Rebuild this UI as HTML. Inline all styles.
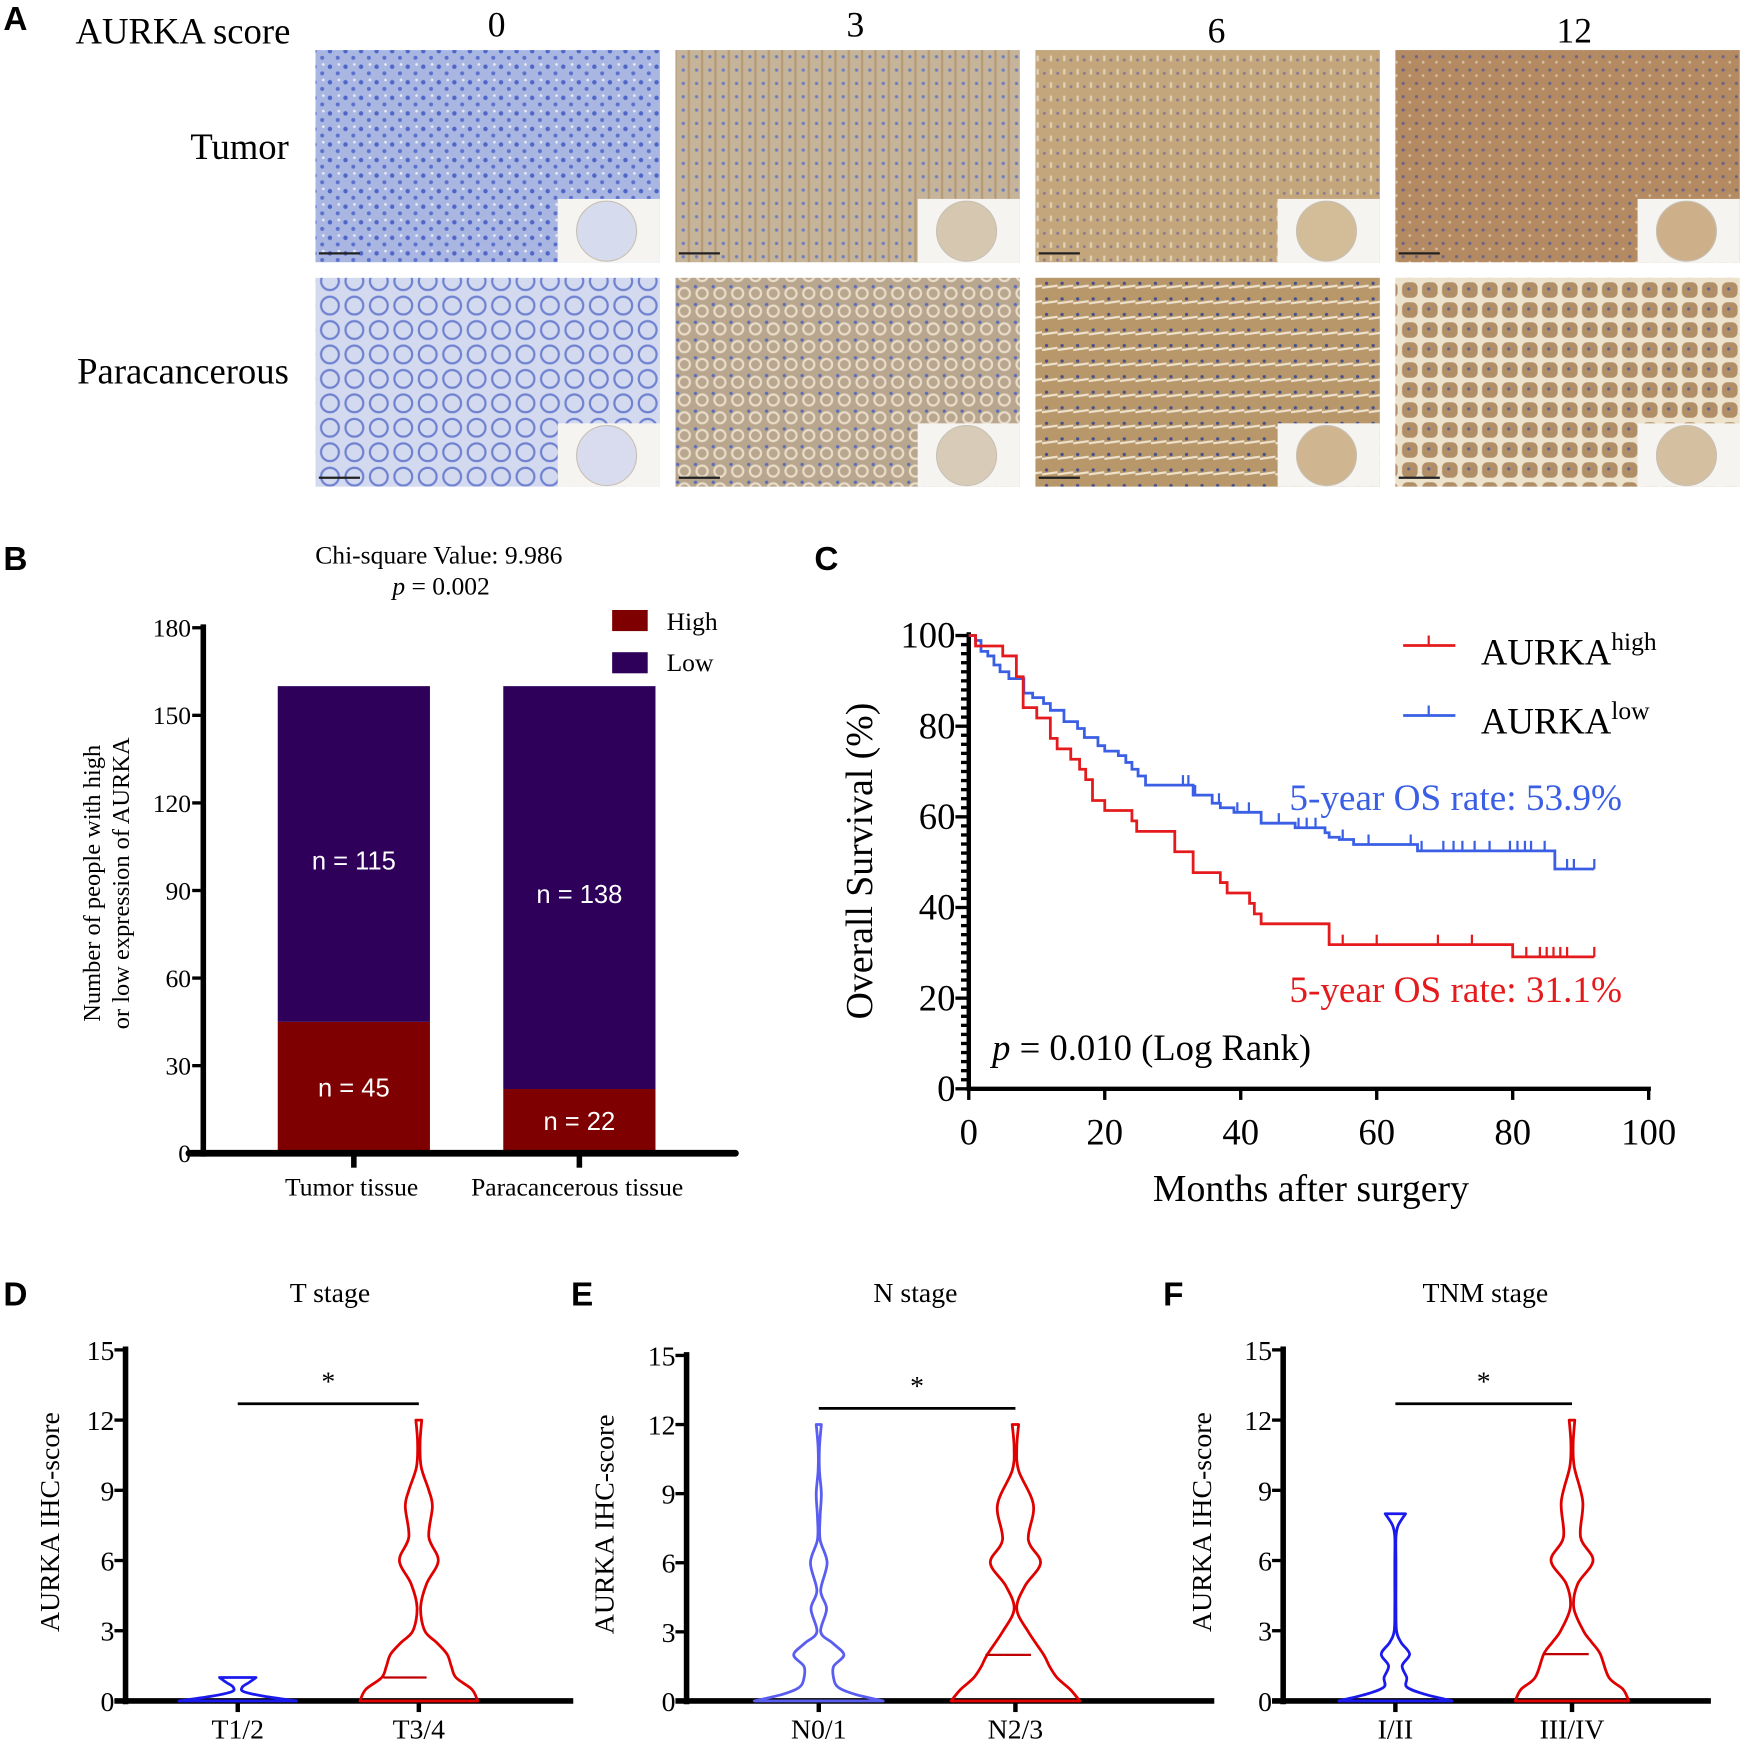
<!DOCTYPE html>
<html><head><meta charset="utf-8"><style>
html,body{margin:0;padding:0;background:#fff;}
svg{display:block;}
.serif{font-family:"Liberation Serif",serif;}
.sans{font-family:"Liberation Sans",sans-serif;}
</style></head><body>
<svg id="fig" width="1742" height="1741" viewBox="0 0 1568 1567" xmlns="http://www.w3.org/2000/svg">
<defs>
<pattern id="pBlue" width="14" height="14" patternUnits="userSpaceOnUse"><rect width="14" height="14" fill="#a9b6e2"/><circle cx="3" cy="4" r="2" fill="#4f66c8"/><circle cx="10" cy="10" r="1.8" fill="#5a70cc"/><circle cx="11" cy="2" r="1.2" fill="#e8ecf8"/></pattern>
<pattern id="pBlueL" width="22" height="22" patternUnits="userSpaceOnUse"><rect width="22" height="22" fill="#d3d9ef"/><circle cx="11" cy="11" r="8" fill="none" stroke="#6f82d0" stroke-width="2"/></pattern>
<pattern id="pTan3" width="12" height="12" patternUnits="userSpaceOnUse"><rect width="12" height="12" fill="#c6b49a"/><circle cx="3" cy="3" r="1.5" fill="#6f7fbf"/><rect x="7" y="0" width="2" height="12" fill="#b59a74"/></pattern>
<pattern id="pTan3b" width="16" height="16" patternUnits="userSpaceOnUse"><rect width="16" height="16" fill="#b9a68e"/><circle cx="8" cy="8" r="5" fill="none" stroke="#e8dcc8" stroke-width="2"/><circle cx="2" cy="2" r="1.5" fill="#5a6db8"/></pattern>
<pattern id="pTan6" width="12" height="12" patternUnits="userSpaceOnUse"><rect width="12" height="12" fill="#c4a67c"/><circle cx="4" cy="6" r="1.3" fill="#8a7a90"/><rect x="9" y="2" width="2" height="5" fill="#e2d2b6"/></pattern>
<pattern id="pTan6b" width="14" height="14" patternUnits="userSpaceOnUse"><rect width="14" height="14" fill="#b8976a"/><path d="M0 7 L14 5" stroke="#eee2cc" stroke-width="2"/><circle cx="4" cy="3" r="1.5" fill="#45508a"/></pattern>
<pattern id="pTan12" width="12" height="12" patternUnits="userSpaceOnUse"><rect width="12" height="12" fill="#b48a62"/><circle cx="3" cy="3" r="1.4" fill="#6a6488"/><circle cx="9" cy="8" r="1.2" fill="#d8c0a0"/></pattern>
<pattern id="pTan12b" width="18" height="18" patternUnits="userSpaceOnUse"><rect width="18" height="18" fill="#ede2cc"/><rect x="2" y="2" width="14" height="14" rx="5" fill="#b08e68"/><circle cx="8" cy="8" r="1.4" fill="#5a5e96"/></pattern>
</defs>

<g>
<text x="3" y="27" class="sans" font-size="30" font-weight="bold">A</text>
<text x="68" y="39" class="serif" font-size="33">AURKA score</text>
<text x="447" y="33" class="serif" font-size="32" text-anchor="middle">0</text>
<text x="770" y="33" class="serif" font-size="32" text-anchor="middle">3</text>
<text x="1095" y="38" class="serif" font-size="32" text-anchor="middle">6</text>
<text x="1417" y="38" class="serif" font-size="32" text-anchor="middle">12</text>
<text x="260" y="143" class="serif" font-size="33" text-anchor="end">Tumor</text>
<text x="260" y="345" class="serif" font-size="33" text-anchor="end">Paracancerous</text>
<g id="micro"></g>
</g>

<g id="panelB">
<text x="3" y="513" class="sans" font-size="30" font-weight="bold">B</text>
<text x="395" y="507" class="serif" font-size="23" text-anchor="middle">Chi-square Value: 9.986</text>
<text x="397" y="535" class="serif" font-size="23" text-anchor="middle"><tspan font-style="italic">p</tspan> = 0.002</text>
<rect x="551" y="549" width="32" height="19" fill="#7f0000"/>
<text x="600" y="567" class="serif" font-size="23">High</text>
<rect x="551" y="587" width="32" height="19" fill="#2e0059"/>
<text x="600" y="604" class="serif" font-size="23">Low</text>
<text transform="translate(90,795) rotate(-90)" class="serif" font-size="22" text-anchor="middle">Number of people with high</text>
<text transform="translate(116,795) rotate(-90)" class="serif" font-size="22" text-anchor="middle">or low expression of AURKA</text>
</g>

<g id="panelC">
<text x="733" y="513" class="sans" font-size="30" font-weight="bold">C</text>
<text transform="translate(785,775) rotate(-90)" class="serif" font-size="34" text-anchor="middle">Overall Survival (%)</text>
<text x="1180" y="1081" class="serif" font-size="34" text-anchor="middle">Months after surgery</text>
<line x1="1263" y1="581" x2="1310" y2="581" stroke="#e41a1c" stroke-width="2.5"/>
<line x1="1286" y1="581" x2="1286" y2="572" stroke="#e41a1c" stroke-width="2"/>
<text x="1333" y="598" class="serif" font-size="33">AURKA<tspan font-size="23" dy="-13">high</tspan></text>
<line x1="1263" y1="644" x2="1310" y2="644" stroke="#3a5fe5" stroke-width="2.5"/>
<line x1="1286" y1="644" x2="1286" y2="635" stroke="#3a5fe5" stroke-width="2"/>
<text x="1333" y="660" class="serif" font-size="33">AURKA<tspan font-size="23" dy="-13">low</tspan></text>
<text x="1460" y="729" class="serif" font-size="33.5" text-anchor="end" fill="#3a5fe5">5-year OS rate: 53.9%</text>
<text x="1460" y="902" class="serif" font-size="33.5" text-anchor="end" fill="#e41a1c">5-year OS rate: 31.1%</text>
<text x="893" y="954" class="serif" font-size="33"><tspan font-style="italic">p</tspan> = 0.010 (Log Rank)</text>
</g>

<g id="panelD">
<text x="3" y="1175" class="sans" font-size="30" font-weight="bold">D</text>
<text x="297" y="1172" class="serif" font-size="25" text-anchor="middle">T stage</text>
<text transform="translate(53,1370) rotate(-90)" class="serif" font-size="25" text-anchor="middle">AURKA IHC-score</text>
</g>
<g id="panelE">
<text x="514" y="1175" class="sans" font-size="30" font-weight="bold">E</text>
<text x="824" y="1172" class="serif" font-size="25" text-anchor="middle">N stage</text>
<text transform="translate(552,1372) rotate(-90)" class="serif" font-size="25" text-anchor="middle">AURKA IHC-score</text>
</g>
<g id="panelF">
<text x="1047" y="1175" class="sans" font-size="30" font-weight="bold">F</text>
<text x="1337" y="1172" class="serif" font-size="25" text-anchor="middle">TNM stage</text>
<text transform="translate(1090,1370) rotate(-90)" class="serif" font-size="25" text-anchor="middle">AURKA IHC-score</text>
</g>
</svg>

<script>
// ---------- Panel B data ----------
const bCategories = ["Tumor tissue", "Paracancerous tissue"];
const bHigh = [45, 22];
const bLow = [115, 138];
const bTicks = [0, 30, 60, 90, 120, 150, 180];

// ---------- Panel C data ----------
const highTimes = [1, 5, 7, 8, 10, 12, 13, 15, 16.3, 17.2, 18.2, 20, 24, 24.7, 30.3, 33, 37, 38, 41.3, 42, 43, 53, 80];
const highSurv = [97.7, 95.5, 90.9, 84.1, 81.8, 77.3, 75, 72.7, 70.5, 68.2, 63.6, 61.4, 59.1, 56.8, 52.3, 47.7, 45.5, 43.2, 40.9, 38.6, 36.4, 31.8, 29.1];
const highCensor = [55, 60, 69, 74, 82, 84, 85, 86, 87, 88, 92];
const lowTimes = [1, 1.8, 2.8, 3.7, 4.6, 5.9, 8.1, 9.4, 11, 12, 14, 16, 17, 19, 20, 22, 23.1, 24, 24.9, 26, 33, 35.8, 37, 39, 43, 48, 52.4, 53, 54.5, 56.6, 66, 86.2];
const lowSurv = [98.9, 96.5, 95.5, 93.5, 92, 90.5, 87.3, 86.3, 85, 83.5, 81, 79.5, 77.5, 75.7, 74.5, 73.5, 72, 70.5, 69, 67, 64.8, 63, 62, 61, 58.6, 57.6, 56.5, 55.5, 55, 53.9, 52.5, 48.5];
const lowCensor = [31.5, 32.3, 33.3, 36.8, 39.5, 41.2, 45.6, 48.5, 49.7, 51, 55, 58.8, 65, 66.6, 69.8, 71.3, 72.6, 74.4, 76.6, 79.6, 80.7, 81.8, 82.7, 84.7, 88, 89, 92];
const cEnd = 92;
const cXTicks = [0, 20, 40, 60, 80, 100];
const cYTicks = [0, 20, 40, 60, 80, 100];

// ---------- Violin data ----------
const violinTicks = [0, 3, 6, 9, 12, 15];
const dCats = ["T1/2", "T3/4"];
const dLowScores = [0, 0.2, 0.4, 0.6, 0.8, 1];
const dLowDens = [1, 0.45, 0.1, 0.08, 0.2, 0.31];
const dHighScores = [0, 0.5, 1, 1.5, 2, 2.5, 3, 4, 5, 6, 7, 8.3, 9, 10, 11, 12];
const dHighDens = [1, 0.9, 0.63, 0.55, 0.48, 0.3, 0.1, 0.03, 0.13, 0.33, 0.17, 0.23, 0.17, 0.04, 0.02, 0.05];
const dMedians = [0, 1];
const eCats = ["N0/1", "N2/3"];
const eLowScores = [0, 0.3, 0.6, 1, 1.5, 2, 2.5, 3, 4, 4.8, 6, 7, 8, 9, 10, 11, 12];
const eLowDens = [1, 0.55, 0.3, 0.23, 0.23, 0.39, 0.22, 0.03, 0.12, 0.03, 0.13, 0.02, 0.02, 0.04, 0.01, 0.01, 0.04];
const eHighScores = [0, 0.5, 1, 1.5, 2, 3, 4, 5, 6, 7, 8.5, 10, 11, 12];
const eHighDens = [1, 0.85, 0.65, 0.53, 0.44, 0.2, 0.02, 0.15, 0.39, 0.2, 0.28, 0.05, 0.02, 0.05];
const eMedians = [0, 2];
const fCats = ["I/II", "III/IV"];
const fLowScores = [0, 0.3, 0.6, 1, 1.5, 2, 2.5, 3, 4, 5, 6, 7, 7.5, 8];
const fLowDens = [1, 0.5, 0.2, 0.2, 0.12, 0.25, 0.1, 0.02, 0.01, 0.01, 0.01, 0.01, 0.05, 0.18];
const fHighScores = [0, 0.5, 1, 2, 2.5, 3, 4, 5, 6, 7, 8.5, 10, 11, 12];
const fHighDens = [1, 0.9, 0.65, 0.5, 0.35, 0.2, 0.03, 0.1, 0.37, 0.15, 0.19, 0.04, 0.02, 0.05];
const fMedians = [0, 2];

const NS = "http://www.w3.org/2000/svg";
function mk(parent, tag, attrs, text) {
  const el = document.createElementNS(NS, tag);
  for (const k in attrs) el.setAttribute(k, attrs[k]);
  if (text !== undefined) el.textContent = text;
  parent.appendChild(el);
  return el;
}

(function () {
  const g = document.getElementById("micro");
  const xs = [284, 608, 932, 1256];
  const rows = [[45, 191], [250, 188]];
  const fills = [["url(#pBlue)", "url(#pTan3)", "url(#pTan6)", "url(#pTan12)"],
                 ["url(#pBlueL)", "url(#pTan3b)", "url(#pTan6b)", "url(#pTan12b)"]];
  const disc = [["#d6dbee", "#d6c8b0", "#d3bd98", "#cdb08a"], ["#d8dcee", "#d8ccb8", "#cfb590", "#d4c0a0"]];
  rows.forEach((r, ri) => {
    xs.forEach((x, ci) => {
      const im = mk(g, "rect", { x: x, y: r[0], width: 310, height: r[1], fill: fills[ri][ci] });
      
      
      const ins = mk(g, "rect", { x: x + 218, y: r[0] + r[1] - 57, width: 92, height: 57, fill: "#f6f4f0" });
      
      
      const c = mk(g, "ellipse", { cx: x + 262, cy: r[0] + r[1] - 28, rx: 27, ry: 27, fill: disc[ri][ci], stroke: "#c8c0b4", "stroke-width": 1 });
      
      
      const sb = mk(g, "line", { x1: x + 3, y1: r[0] + r[1] - 8, x2: x + 40, y2: r[0] + r[1] - 8, stroke: "#222", "stroke-width": 2 });
      
      
    });
  });
})();

(function () {
  const g = document.getElementById("panelB");
  const y0 = 1038, y1 = 565, ax = 183;
  const yS = v => y0 - v * (y0 - y1) / 180;
  const bx = [250, 453], bw = 137;
  bCategories.forEach((cat, i) => {
    const h = mk(g, "rect", { x: bx[i], y: yS(bHigh[i]), width: bw, height: yS(0) - yS(bHigh[i]), fill: "#7f0000" });
    
    
    const l = mk(g, "rect", { x: bx[i], y: yS(bHigh[i] + bLow[i]), width: bw, height: yS(bHigh[i]) - yS(bHigh[i] + bLow[i]), fill: "#2e0059" });
    
    
    const tl = mk(g, "text", { x: bx[i] + bw / 2, y: (yS(bHigh[i]) + yS(bHigh[i] + bLow[i])) / 2 + 14, fill: "#fff", "font-size": 23, "text-anchor": "middle", class: "sans" }, "n = " + bLow[i]);
    
    
    const th = mk(g, "text", { x: bx[i] + bw / 2, y: (yS(0) + yS(bHigh[i])) / 2 + 8, fill: "#fff", "font-size": 23, "text-anchor": "middle", class: "sans" }, "n = " + bHigh[i]);
    
    
    const xt = mk(g, "line", { x1: bx[i] + bw / 2, y1: y0, x2: bx[i] + bw / 2, y2: y0 + 13, stroke: "#000", "stroke-width": 5 });
    
    
    const xl = mk(g, "text", { x: bx[i] + bw / 2 - 2, y: 1076, "font-size": 23, "text-anchor": "middle", class: "serif" }, cat);
    
    
  });
  const ya = mk(g, "line", { x1: ax, y1: y1 - 3, x2: ax, y2: y0 + 3, stroke: "#000", "stroke-width": 5 });
  
  
  const xa = mk(g, "line", { x1: 170, y1: y0, x2: 662, y2: y0, stroke: "#000", "stroke-width": 6, "stroke-linecap": "round" });
  
  
  bTicks.forEach(t => {
    const tk = mk(g, "line", { x1: ax - 10, y1: yS(t), x2: ax, y2: yS(t), stroke: "#000", "stroke-width": 3 });
    
    
    const tl = mk(g, "text", { x: ax - 11, y: yS(t) + 8, "font-size": 23, "text-anchor": "end", class: "serif" }, String(t));
    
    
  });
})();

(function () {
  const g = document.getElementById("panelC");
  const xS = m => 872 + m * 6.12;
  const yS = p => 980 - p * 4.08;
  const ya = mk(g, "line", { x1: xS(0), y1: yS(100) - 3, x2: xS(0), y2: yS(0) + 2, stroke: "#000", "stroke-width": 4 });
  
  
  const xa = mk(g, "line", { x1: xS(0) - 2, y1: yS(0), x2: xS(100) + 2, y2: yS(0), stroke: "#000", "stroke-width": 4 });
  
  
  for (let p = 0; p <= 100; p += 2) {
    const major = cYTicks.indexOf(p) >= 0;
    const tk = mk(g, "line", { x1: xS(0) - (major ? 12 : 7), y1: yS(p), x2: xS(0), y2: yS(p), stroke: "#000", "stroke-width": 3 });
    
    
  }
  cYTicks.forEach(p => {
    const tl = mk(g, "text", { x: xS(0) - 12, y: yS(p) + 11, "font-size": 33, "text-anchor": "end", class: "serif" }, String(p));
    
    
  });
  cXTicks.forEach(m => {
    const tk = mk(g, "line", { x1: xS(m), y1: yS(0), x2: xS(m), y2: yS(0) + 10, stroke: "#000", "stroke-width": 3 });
    
    
    const tl = mk(g, "text", { x: xS(m), y: 1030, "font-size": 33, "text-anchor": "middle", class: "serif" }, String(m));
    
    
  });
  function survAt(times, surv, t) {
    let s = 100;
    for (let i = 0; i < times.length; i++) if (times[i] <= t) s = surv[i];
    return s;
  }
  function drawKM(times, surv, censor, color, name) {
    let d = "M" + xS(0) + " " + yS(100);
    for (let i = 0; i < times.length; i++) {
      d += " H" + xS(times[i]) + " V" + yS(surv[i]);
    }
    d += " H" + xS(cEnd);
    const p = mk(g, "path", { d: d, fill: "none", stroke: color, "stroke-width": 2.5 });
    
    
    censor.forEach(t => {
      const s = survAt(times, surv, t);
      const c = mk(g, "line", { x1: xS(t), y1: yS(s), x2: xS(t), y2: yS(s) - 9, stroke: color, "stroke-width": 2 });
      
      
    });
  }
  drawKM(lowTimes, lowSurv, lowCensor, "#3a5fe5", "aurka-low");
  drawKM(highTimes, highSurv, highCensor, "#e41a1c", "aurka-high");
})();

function catmull(pts) {
  let d = "";
  for (let i = 0; i < pts.length - 1; i++) {
    const p0 = pts[Math.max(0, i - 1)], p1 = pts[i], p2 = pts[i + 1], p3 = pts[Math.min(pts.length - 1, i + 2)];
    const c1x = p1[0] + (p2[0] - p0[0]) / 6, c1y = p1[1] + (p2[1] - p0[1]) / 6;
    const c2x = p2[0] - (p3[0] - p1[0]) / 6, c2y = p2[1] - (p3[1] - p1[1]) / 6;
    d += " C" + c1x.toFixed(1) + " " + c1y.toFixed(1) + " " + c2x.toFixed(1) + " " + c2y.toFixed(1) + " " + p2[0].toFixed(1) + " " + p2[1].toFixed(1);
  }
  return d;
}
function violinPanel(id, ax, yTop, yZero, xEnd, centers, halfMax, cats, profiles, medians, medOff, colors) {
  const g = document.getElementById(id);
  const yS = v => yZero - v * (yZero - yTop) / 15;
  const ya = mk(g, "line", { x1: ax, y1: yTop - 3, x2: ax, y2: yZero + 3, stroke: "#000", "stroke-width": 5 });
  
  
  const xa = mk(g, "line", { x1: ax - 10, y1: yZero, x2: xEnd, y2: yZero, stroke: "#000", "stroke-width": 5 });
  
  
  violinTicks.forEach(t => {
    const tk = mk(g, "line", { x1: ax - 10, y1: yS(t), x2: ax, y2: yS(t), stroke: "#000", "stroke-width": 3 });
    
    
    const tl = mk(g, "text", { x: ax - 10, y: yS(t) + 9, "font-size": 25, "text-anchor": "end", class: "serif" }, String(t));
    
    
  });
  cats.forEach((c, i) => {
    const cx = centers[i];
    const tk = mk(g, "line", { x1: cx, y1: yZero, x2: cx, y2: yZero + 10, stroke: "#000", "stroke-width": 4 });
    
    
    const tl = mk(g, "text", { x: cx, y: yZero + 34, "font-size": 25, "text-anchor": "middle", class: "serif" }, c);
    
    
    const sc = profiles[i][0], dn = profiles[i][1];
    const right = sc.map((s, k) => [cx + dn[k] * halfMax, yS(s)]);
    const left = sc.map((s, k) => [cx - dn[k] * halfMax, yS(s)]).reverse();
    let d = "M" + (cx - dn[0] * halfMax) + " " + yS(0) + " L" + right[0][0] + " " + right[0][1];
    d += catmull(right);
    d += " L" + left[0][0] + " " + left[0][1];
    d += catmull(left) + " Z";
    const v = mk(g, "path", { d: d, fill: "none", stroke: colors[i], "stroke-width": 2.5, "stroke-linejoin": "round" });
    
    
    if (medians[i] > 0) {
      const m = mk(g, "line", { x1: cx + medOff[0], y1: yS(medians[i]), x2: cx + medOff[1], y2: yS(medians[i]), stroke: "#c00000", "stroke-width": 2 });
      
      
    }
  });
  const sig = mk(g, "line", { x1: centers[0], y1: yS(12.7), x2: centers[1], y2: yS(12.7), stroke: "#000", "stroke-width": 2.5 });
  
  
  const st = mk(g, "text", { x: (centers[0] + centers[1]) / 2, y: yS(12.7) - 12, "font-size": 25, "text-anchor": "middle", class: "serif" }, "*");
  
  
}
violinPanel("panelD", 113, 1215, 1531, 516, [214, 377], 53, dCats, [[dLowScores, dLowDens], [dHighScores, dHighDens]], dMedians, [-32, 7], ["#1a1aee", "#e00000"]);
violinPanel("panelE", 618, 1220, 1531, 1093, [737, 914], 58, eCats, [[eLowScores, eLowDens], [eHighScores, eHighDens]], eMedians, [-27, 14], ["#5a5ef0", "#e00000"]);
violinPanel("panelF", 1155, 1215, 1531, 1540, [1256, 1415], 51, fCats, [[fLowScores, fLowDens], [fHighScores, fHighDens]], fMedians, [-25, 15], ["#1a1aee", "#e00000"]);
</script>
</body></html>
